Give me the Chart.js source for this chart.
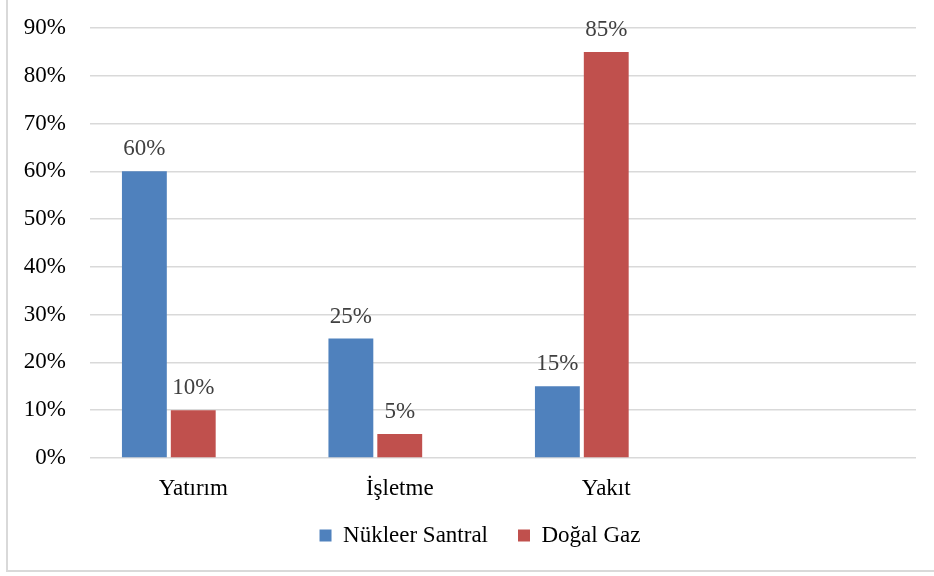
<!DOCTYPE html>
<html>
<head>
<meta charset="utf-8">
<script src="https://cdn.jsdelivr.net/npm/chart.js@4"></script>
<style>
    body { margin: 0; background: #fff; }
    #wrap { position: relative; width: 934px; height: 576px; }
    #frame {
        position: absolute; left: 6px; top: -2px; width: 940px; height: 572px;
        border-left: 2px solid #d9d9d9; border-bottom: 2px solid #d9d9d9;
    }
    canvas { position: absolute; left: 0; top: 0; }
</style>
</head>
<body>
<div id="wrap">
    <div id="frame"></div>
    <canvas id="myChart" width="934" height="576"></canvas>
</div>
<script>
const categories = ['Yatırım', 'İşletme', 'Yakıt', ''];
const nukleer = [60, 25, 15];
const dogalGaz = [10, 5, 85];
const yTicks = [0, 10, 20, 30, 40, 50, 60, 70, 80, 90];

const serif = 'Liberation Serif, Times New Roman, serif';

// draws the "60%" style value above every bar
const valueLabels = {
    id: 'valueLabels',
    afterDatasetsDraw(chart) {
        const ctx = chart.ctx;
        ctx.save();
        ctx.font = '23px ' + serif;
        ctx.fillStyle = '#404040';
        ctx.textAlign = 'center';
        ctx.textBaseline = 'alphabetic';
        chart.data.datasets.forEach((ds, i) => {
            chart.getDatasetMeta(i).data.forEach((bar, j) => {
                if (ds.data[j] == null) return;
                ctx.fillText(ds.data[j] + '%', bar.x, bar.y - 16);
            });
        });
        ctx.restore();
    }
};

// the legend sits a little right of centre and closer to the axis labels
const legendShift = {
    id: 'legendShift',
    afterLayout(chart) {
        const lg = chart.legend;
        lg.left += 22; lg.right += 22;
        lg.top -= 12; lg.bottom -= 12;
    }
};

const data = {
    labels: categories,
    datasets: [{
        label: 'Nükleer Santral',
        data: nukleer,
        backgroundColor: '#4f81bd'
    }, {
        label: 'Doğal Gaz',
        data: dogalGaz,
        backgroundColor: '#c0504d'
    }, {
        label: '',
        data: [],
        backgroundColor: 'transparent'
    }]
};

const config = {
    type: 'bar',
    data: data,
    options: {
        responsive: false,
        animation: false,
        datasets: {
            bar: {
                categoryPercentage: 0.71,
                barPercentage: 0.918
            }
        },
        layout: {
            padding: { left: 0, right: 18, top: 28, bottom: 7 }
        },
        scales: {
            x: {
                grid: { display: false },
                border: { display: false },
                ticks: {
                    padding: 9,
                    color: '#000',
                    font: { size: 23, family: serif }
                },
                afterFit(scale) { scale.height = 48; }
            },
            y: {
                min: 0,
                max: 90,
                afterBuildTicks(scale) {
                    scale.ticks = yTicks.map(v => ({ value: v }));
                },
                grid: {
                    color: '#d9d9d9',
                    lineWidth: 1.5,
                    tickLength: 24,
                    tickColor: 'transparent'
                },
                border: { display: false },
                ticks: {
                    padding: 0,
                    color: '#000',
                    font: { size: 23, family: serif },
                    callback: v => v + '%'
                },
                afterFit(scale) { scale.width = 90; }
            }
        },
        plugins: {
            tooltip: { enabled: false },
            legend: {
                position: 'bottom',
                labels: {
                    boxWidth: 12,
                    boxHeight: 12,
                    padding: 30,
                    color: '#000',
                    font: { size: 23, family: serif },
                    filter: item => item.text !== ''
                }
            }
        }
    },
    plugins: [valueLabels, legendShift]
};

const myChart = new Chart(document.getElementById('myChart'), config);
</script>
</body>
</html>
